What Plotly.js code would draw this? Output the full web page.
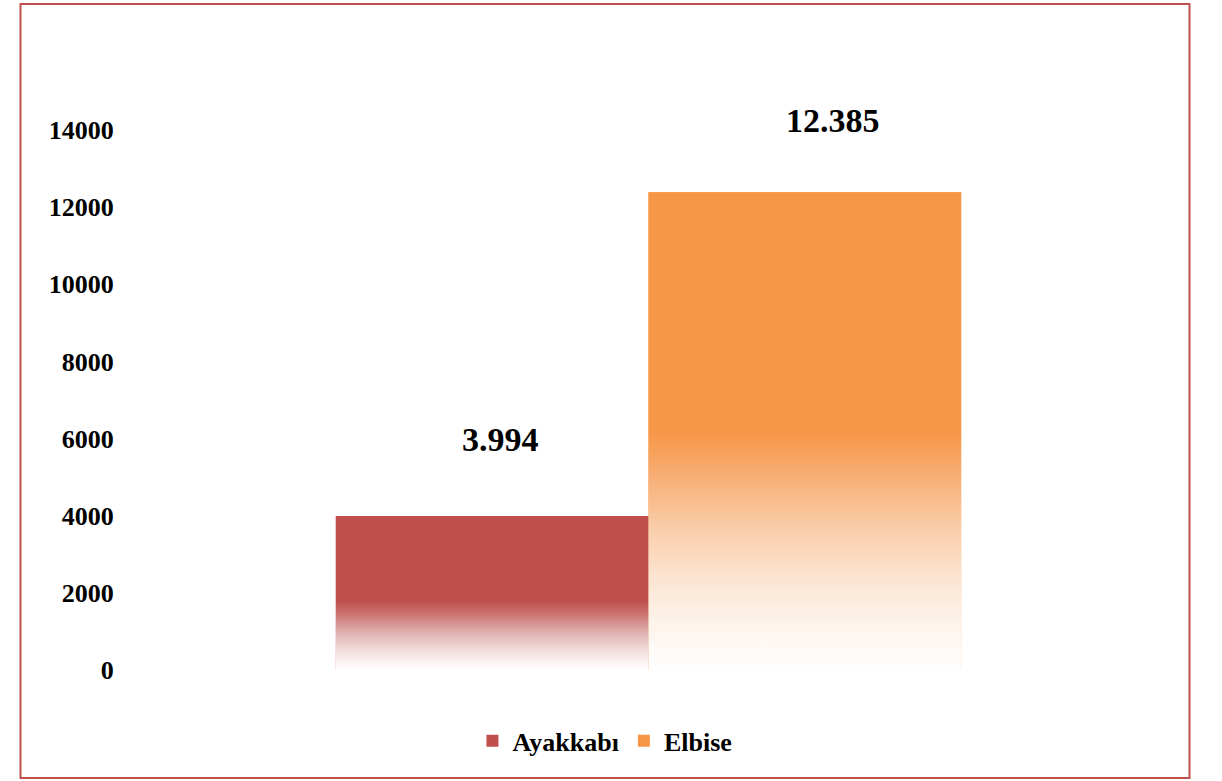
<!DOCTYPE html>
<html>
<head>
<meta charset="utf-8">
<script src="https://cdn.plot.ly/plotly-3.0.1.min.js"></script>
<style>html,body{margin:0;padding:0;background:#fff;}#chart{width:1222px;height:781px;}</style>
</head>
<body>
<div id="chart"></div>
<script>
// ---- data ----
const categories = ['Ayakkabı', 'Elbise'];
const values = [3994, 12385];
const seriesColors = ['#c0504d', '#f79646'];
const tickValues = [0, 2000, 4000, 6000, 8000, 10000, 12000, 14000];
const tickLabels = ['0', '2000', '4000', '6000', '8000', '10000', '12000', '14000'];

// gradient stops (fraction from bar bottom to bar top)
const gradients = [
  [[0, '#ffffff'], [0.12, '#f2e0df'], [0.25, '#dfaeac'], [0.36, '#cc7472'], [0.45, '#c0504d'], [1, '#c0504d']],
  [[0, '#ffffff'], [0.1, '#fdf3ea'], [0.2, '#fbe3cf'], [0.3, '#f9cda8'], [0.4, '#f8b078'], [0.5, '#f79646'], [1, '#f79646']]
];

// ---- style ----
const FONT = 'Liberation Serif, Times New Roman, serif';
const bargap = 0.397;
const half = (1 - bargap) / 2;

function fmt(v) {
  return String(v).replace(/\B(?=(\d{3})+(?!\d))/g, '.');
}

const traces = [];
// real bars (also give the legend entries)
categories.forEach((c, i) => {
  traces.push({
    type: 'bar',
    name: c,
    x: [0],
    y: [values[i]],
    marker: { color: seriesColors[i], line: { width: 0 } },
    hoverinfo: 'name+y'
  });
});
// gradient overlays built from the same values
categories.forEach((c, i) => {
  const x0 = i === 0 ? -half : 0;
  const x1 = i === 0 ? 0 : half;
  traces.push({
    type: 'scatter',
    mode: 'none',
    x: [x0, x0, x1, x1, x0],
    y: [0, values[i], values[i], 0, 0],
    fill: 'toself',
    fillgradient: { type: 'vertical', colorscale: gradients[i], start: 0, stop: values[i] },
    showlegend: false,
    hoverinfo: 'skip'
  });
});

const xshifts = [8, 28];
const yshifts = [76, 72];
const annotations = categories.map((c, i) => ({
  x: i === 0 ? -half / 2 : half / 2,
  y: values[i],
  xref: 'x', yref: 'y',
  text: fmt(values[i]),
  showarrow: false,
  xanchor: 'center', yanchor: 'middle',
  xshift: xshifts[i], yshift: yshifts[i],
  font: { family: FONT, size: 34, color: '#000', weight: 'bold' }
}));

const layout = {
  width: 1222, height: 781,
  margin: { l: 130, r: 55, t: 130, b: 111 },
  paper_bgcolor: '#ffffff',
  plot_bgcolor: '#ffffff',
  barmode: 'group',
  bargap: bargap,
  bargroupgap: 0,
  showlegend: true,
  legend: {
    orientation: 'h',
    x: 0.458, xanchor: 'center',
    y: -0.131, yanchor: 'middle',
    font: { family: FONT, size: 26, color: '#000', weight: 'bold' },
    traceorder: 'normal'
  },
  xaxis: {
    type: 'linear',
    range: [-0.5, 0.5],
    showticklabels: false, showgrid: false, zeroline: false, showline: false, ticks: ''
  },
  yaxis: {
    range: [0, 14000],
    tickvals: tickValues,
    ticktext: tickLabels,
    ticks: 'outside', ticklen: 10, tickcolor: 'rgba(0,0,0,0)',
    showgrid: false, zeroline: false, showline: false,
    tickfont: { family: FONT, size: 26, color: '#000', weight: 'bold' }
  },
  annotations: annotations,
  shapes: [{
    type: 'rect', xref: 'paper', yref: 'paper',
    x0: (20.5 - 130) / 1037, x1: (1189.5 - 130) / 1037,
    y0: (670 - 778) / 540, y1: (670 - 4) / 540,
    line: { color: '#c0504d', width: 2 },
    fillcolor: 'rgba(0,0,0,0)',
    layer: 'below'
  }]
};

Plotly.newPlot('chart', traces, layout, { displayModeBar: false, staticPlot: true });
</script>
</body>
</html>
